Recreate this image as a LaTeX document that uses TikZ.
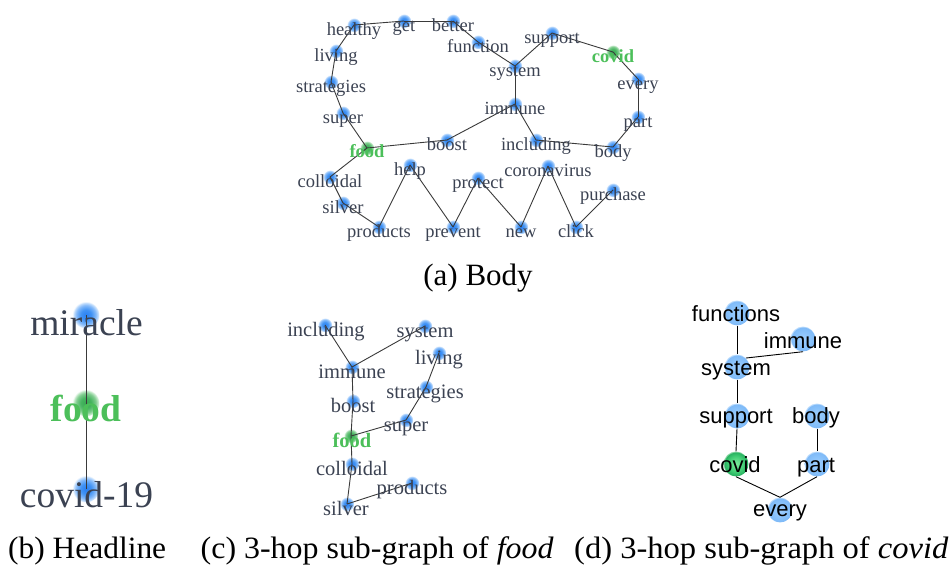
\documentclass[tikz,border=0pt]{standalone}
\usepackage{graphicx}
\usepackage{fontspec}
\setmainfont{Liberation Serif}
\newfontfamily\arialf{Liberation Sans}
\definecolor{txt}{HTML}{3B4252}
\definecolor{grn}{HTML}{4CBF5A}
\definecolor{edgec}{HTML}{3A3A3A}
% soft dots (word graphs)
\pgfdeclareradialshading{dotblue}{\pgfpoint{0bp}{0bp}}{%
  rgb(0bp)=(0.16,0.50,0.95); rgb(10bp)=(0.26,0.58,0.96); rgb(18bp)=(0.52,0.73,0.98);
  rgb(23bp)=(0.80,0.89,0.99); rgb(25bp)=(1,1,1); rgb(50bp)=(1,1,1)}
\pgfdeclareradialshading{dotgreen}{\pgfpoint{0bp}{0bp}}{%
  rgb(0bp)=(0.22,0.66,0.32); rgb(10bp)=(0.28,0.71,0.38); rgb(18bp)=(0.50,0.80,0.56);
  rgb(23bp)=(0.80,0.93,0.82); rgb(25bp)=(1,1,1); rgb(50bp)=(1,1,1)}
% ball dots (sans graph)
\pgfdeclareradialshading{ballblue}{\pgfpoint{0bp}{0bp}}{%
  rgb(0bp)=(0.62,0.81,1.00); rgb(18bp)=(0.52,0.75,0.98); rgb(23bp)=(0.50,0.73,0.97);
  rgb(25bp)=(0.75,0.87,0.99); rgb(50bp)=(1,1,1)}
\pgfdeclareradialshading{ballgreen}{\pgfpoint{0bp}{0bp}}{%
  rgb(0bp)=(0.50,0.93,0.62); rgb(16bp)=(0.25,0.80,0.45); rgb(23bp)=(0.16,0.70,0.38);
  rgb(25bp)=(0.55,0.85,0.65); rgb(50bp)=(1,1,1)}
\tikzset{
  dotA/.style={circle, inner sep=0pt, minimum size=14.5pt, shading=dotblue},
  dotAg/.style={circle, inner sep=0pt, minimum size=14.5pt, shading=dotgreen},
  dotB/.style={circle, inner sep=0pt, minimum size=27pt, shading=dotblue},
  dotBg/.style={circle, inner sep=0pt, minimum size=27pt, shading=dotgreen},
  dotD/.style={circle, inner sep=0pt, minimum size=25pt, shading=ballblue},
  dotDg/.style={circle, inner sep=0pt, minimum size=25pt, shading=ballgreen},
  edge/.style={draw=edgec, line width=0.9pt},
  edgeD/.style={draw=black, line width=0.9pt},
  labA/.style={text=txt, anchor=base, inner sep=0pt, font=\fontsize{18.5}{20}\selectfont},
  labAg/.style={text=grn, anchor=base, inner sep=0pt, font=\fontsize{18.5}{20}\selectfont\bfseries},
  labC/.style={text=txt, anchor=base, inner sep=0pt, font=\fontsize{20.5}{22}\selectfont},
  labCg/.style={text=grn, anchor=base, inner sep=0pt, font=\fontsize{20.5}{22}\selectfont\bfseries},
  labB/.style={text=txt, anchor=base, inner sep=0pt, font=\fontsize{37.5}{40}\selectfont},
  labBg/.style={text=grn, anchor=base, inner sep=0pt, font=\fontsize{37.5}{40}\selectfont\bfseries},
  labD/.style={text=black, anchor=base, inner sep=0pt, font=\arialf\fontsize{22}{24}\selectfont},
  captext/.style={text=black, inner sep=0pt, font=\fontsize{31}{33}\selectfont},
}
\begin{document}
\begin{tikzpicture}[x=1pt, y=-1pt]
\useasboundingbox (0,0) rectangle (952,568);

% ---------------- (a) Body ----------------
\foreach \n/\x/\y in {healthy/354/25, get/404/21, better/453/21, function/478/42,
  system/515/66, support/552/33, every/638/79, part/638/117, body/613/147,
  immune/515/104, including/536/140, boost/447/140, super/343/113,
  strategies/331/82, living/336/51, colloidal/330/177, silver/343/203,
  products/379/227, help/410/165, prevent/453/227, protect/478/178,
  new/521/227, coronavirus/548/166, click/576/227, purchase/613/190}
  {\node[dotA] (a-\n) at (\x,\y) {};}
\node[dotAg] (a-covid) at (613,52) {};
\node[dotAg] (a-food) at (367,148) {};

\foreach \s/\t in {healthy/get, get/better, healthy/living, living/strategies,
  strategies/super, super/food, better/function, function/system, system/support,
  support/covid, covid/every, every/part, part/body, system/immune, immune/boost,
  immune/including, including/body, boost/food, food/colloidal, colloidal/silver,
  silver/products, products/help, help/prevent, prevent/protect, protect/new,
  new/coronavirus, coronavirus/click, click/purchase}
  {\draw[edge] (a-\s.center) -- (a-\t.center);}

\foreach \n/\x/\y in {healthy/354/25, get/404/21, better/453/21, function/478/42,
  system/515/66, support/552/33, every/638/79, part/638/117, body/613/147,
  immune/515/104, including/536/140, boost/447/140, super/343/113,
  strategies/331/82, living/336/51, colloidal/330/177, silver/343/203,
  products/379/227, help/410/165, prevent/453/227, protect/478/178,
  new/521/227, coronavirus/548/166, click/576/227, purchase/613/190}
  {\node[labA] (a-\n-t) at (\x,\y+10.5) {\n};}
\node[labAg] (a-covid-t) at (613,62) {covid};
\node[labAg] (a-food-t) at (367,157.5) {food};

\node[captext, anchor=base] (cap-a) at (478,285) {(a) Body};

% ---------------- (b) Headline ----------------
\node[dotB] (b-miracle) at (86,315) {};
\node[dotBg] (b-food) at (86,403) {};
\node[dotB] (b-covid) at (86,489) {};
\draw[edge] (b-miracle.center) -- (b-food.center);
\draw[edge] (b-food.center) -- (b-covid.center);
\node[labB] (b-miracle-t) at (86.5,335) {miracle};
\node[labBg] (b-food-t) at (86,421) {food};
\node[labB] (b-covid-t) at (86.5,507) {covid-19};

% ---------------- (c) 3-hop sub-graph of food ----------------
\foreach \n/\x/\y in {including/325/325, system/425/326, living/439/353,
  immune/352/367, strategies/426/387, boost/353/401, super/406/420,
  colloidal/352/464, products/412/483, silver/347/504}
  {\node[dotA] (c-\n) at (\x,\y) {};}
\node[dotAg] (c-food) at (351,436) {};

\foreach \s/\t in {including/immune, system/immune, immune/boost, boost/food,
  food/super, super/strategies, strategies/living, food/colloidal,
  colloidal/silver, silver/products}
  {\draw[edge] (c-\s.center) -- (c-\t.center);}

\foreach \n/\x/\y in {including/326/325, system/425/326, living/439/353,
  immune/352/367, strategies/425/387, boost/353/401, super/406/420,
  colloidal/352/464, products/412/483, silver/346/504}
  {\node[labC] (c-\n-t) at (\x,\y+11.5) {\n};}
\node[labCg] (c-food-t) at (352,447.5) {food};

% ---------------- (d) 3-hop sub-graph of covid ----------------
\foreach \n/\x/\y in {functions/737/313, immune/803/339, system/737/367,
  support/737/416, body/817/416, part/817/464, every/780/510}
  {\node[dotD] (d-\n) at (\x,\y) {};}
\node[dotDg] (d-covid) at (736,464) {};

\draw[edgeD] (d-functions.south) -- (d-system.north);
\draw[edgeD] (d-immune.south) -- (d-system.north east);
\draw[edgeD] (d-system.south) -- (d-support.north);
\draw[edgeD] (d-support.south) -- (d-covid.north);
\draw[edgeD] (d-body.south) -- (d-part.north);
\draw[edgeD] (d-covid.south) -- (d-every.north);
\draw[edgeD] (d-part.south) -- (d-every.north);

\foreach \n/\x/\y in {functions/736/321, immune/803/348, system/736/375,
  support/736/423, body/816/423, covid/735/472, part/816/472, every/780/516}
  {\node[labD] (d-\n-t) at (\x,\y) {\n};}

% ---------------- captions ----------------
\node[captext, anchor=base west] (cap-b) at (8,558) {\scalebox{1.014}[1]{(b) Headline}};
\node[captext, anchor=base west] (cap-c) at (200.5,558) {\scalebox{1.03}[1]{(c) 3-hop sub-graph of \textit{food}}};
\node[captext, anchor=base west] (cap-d) at (574,558) {\scalebox{1.05}[1]{(d) 3-hop sub-graph of \textit{covid}}};
\end{tikzpicture}
\end{document}
